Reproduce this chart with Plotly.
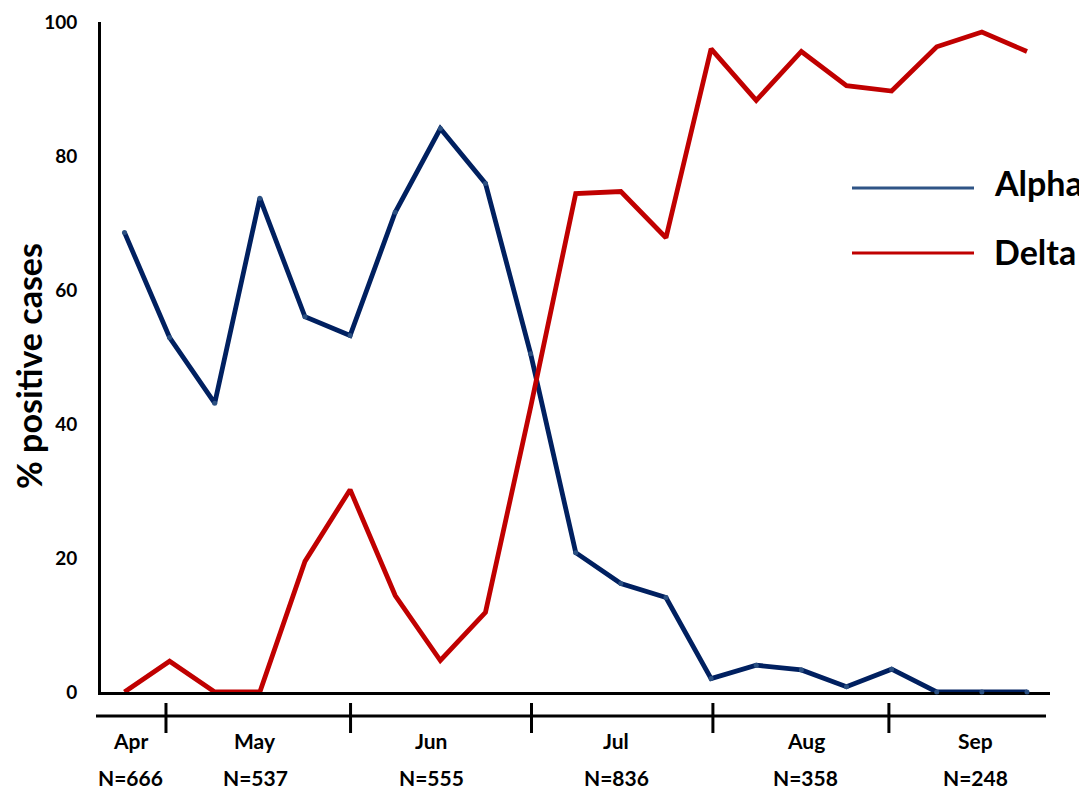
import plotly.graph_objects as go

# ---- data ----
week_index = list(range(21))
alpha = [68.6, 52.9, 43.1, 73.7, 56.0, 53.2, 71.6, 84.1, 75.9, 50.5, 20.8,
         16.2, 14.1, 2.0, 4.0, 3.3, 0.8, 3.4, 0.0, 0.0, 0.0]
delta = [0.0, 4.6, 0.0, 0.0, 19.5, 30.2, 14.4, 4.7, 11.9, 42.5, 74.4,
         74.7, 67.8, 96.0, 88.3, 95.6, 90.5, 89.7, 96.3, 98.5, 95.6]
months = ["Apr", "May", "Jun", "Jul", "Aug", "Sep"]
month_n = ["N=666", "N=537", "N=555", "N=836", "N=358", "N=248"]
month_label_pos = [0.13, 2.9, 6.8, 10.9, 15.1, 18.85]
month_boundaries = [0.92, 5.01, 9.02, 13.04, 16.94]
y_ticks = [0, 20, 40, 60, 80, 100]

ALPHA_C = "#002060"
DELTA_C = "#C00000"
FONT = "Lato"

fig = go.Figure()
fig.add_trace(go.Scatter(
    x=week_index, y=alpha, mode="lines+markers", name="Alpha",
    line=dict(color=ALPHA_C, width=4.8),
    marker=dict(size=5, color="#2B5082"),
    cliponaxis=False, showlegend=False))
fig.add_trace(go.Scatter(
    x=week_index, y=delta, mode="lines", name="Delta",
    line=dict(color=DELTA_C, width=4.8),
    cliponaxis=False, showlegend=False))

# page offset (browser body margin)
OFF = 8
W, H = 1087 - OFF, 789 - OFF
# plot area in screenshot pixels: left 101, right 1050, top 22, bottom 692
L = 101 - OFF
T = 22 - OFF
R = W - (1050 - OFF)
B = H - (692 - OFF)
pw, ph = W - L - R, H - T - B

def py(ypix):
    return (692 - ypix) / ph

def px(xpix):
    return ((xpix - OFF) - L) / pw

shapes = []
# month bracket line
shapes.append(dict(type="line", xref="paper", yref="paper",
                   x0=px(96), x1=px(1046), y0=py(716), y1=py(716),
                   line=dict(color="black", width=3)))
for b in month_boundaries:
    shapes.append(dict(type="line", xref="x", yref="paper",
                       x0=b, x1=b, y0=py(703), y1=py(733),
                       line=dict(color="black", width=3)))
# legend lines
shapes.append(dict(type="line", xref="paper", yref="paper",
                   x0=px(852), x1=px(974), y0=py(188), y1=py(188),
                   line=dict(color="#2F5486", width=3)))
shapes.append(dict(type="line", xref="paper", yref="paper",
                   x0=px(852), x1=px(974), y0=py(253), y1=py(253),
                   line=dict(color=DELTA_C, width=3)))

annotations = []
for m, n, xp in zip(months, month_n, month_label_pos):
    annotations.append(dict(x=xp, y=py(740), xref="x", yref="paper", text=m,
                            showarrow=False, xanchor="center", yanchor="middle",
                            font=dict(family=FONT, size=21, color="black", weight="bold")))
    annotations.append(dict(x=xp, y=py(777), xref="x", yref="paper", text=n,
                            showarrow=False, xanchor="center", yanchor="middle",
                            font=dict(family=FONT, size=21, color="black", weight="bold")))
# legend texts
annotations.append(dict(x=px(992), y=py(182), xref="paper", yref="paper", text="Alpha",
                        showarrow=False, xanchor="left", yanchor="middle",
                        font=dict(family=FONT, size=34, color="black", weight="bold")))
annotations.append(dict(x=px(992), y=py(251), xref="paper", yref="paper", text="Delta",
                        showarrow=False, xanchor="left", yanchor="middle",
                        font=dict(family=FONT, size=34, color="black", weight="bold")))
# y-axis title
annotations.append(dict(x=px(28), y=py(366), xref="paper", yref="paper",
                        text="% positive cases", textangle=-90,
                        showarrow=False, xanchor="center", yanchor="middle",
                        font=dict(family=FONT, size=34, color="black", weight="bold")))

fig.update_layout(
    template="none",
    width=W, height=H,
    margin=dict(l=L, r=R, t=T, b=B, pad=0, autoexpand=False),
    plot_bgcolor="white", paper_bgcolor="white",
    shapes=shapes, annotations=annotations,
    xaxis=dict(range=[-0.52, 20.51], showgrid=False, zeroline=False, automargin=False,
               showline=True, linecolor="black", linewidth=3,
               showticklabels=False, ticks="", layer="below traces"),
    yaxis=dict(range=[0, 100], tickvals=y_ticks, showgrid=False, zeroline=False,
               automargin=False,
               showline=True, linecolor="black", linewidth=3, ticks="",
               ticklabelstandoff=17, layer="below traces",
               tickfont=dict(family=FONT, size=19, color="black", weight="bold")),
)

fig.write_html("out.html")
